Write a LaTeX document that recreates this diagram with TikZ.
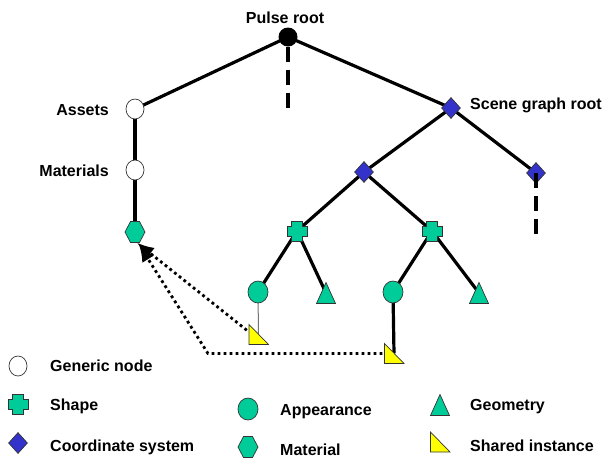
\documentclass[tikz,border=0pt]{standalone}
\usepackage{fontspec}
\setmainfont{Liberation Sans}
\usetikzlibrary{shapes.geometric,arrows.meta,backgrounds}

\definecolor{sgteal}{RGB}{0,204,153}
\definecolor{sgblue}{RGB}{51,51,204}
\definecolor{sgyellow}{RGB}{255,255,0}

\tikzset{
  txt/.style={font=\fontsize{16}{19}\selectfont\bfseries, inner sep=0pt},
  edge/.style={line width=3.2pt},
  thinedge/.style={line width=1pt, black!55},
  dashedge/.style={line width=3.2pt, dash pattern=on 15pt off 8pt},
  refedge/.style={line width=2.8pt, dash pattern=on 2.8pt off 3.2pt, -{Latex[length=17pt,width=14pt]}},
  outline/.style={draw=black!80, line width=0.7pt},
  symbox/.style={rectangle, inner sep=0pt, minimum size=23pt},
  pulse/.style={circle, fill=black, minimum size=19pt, inner sep=0pt},
  generic/.style={ellipse, outline, fill=white, minimum width=18pt, minimum height=20pt, inner sep=0pt},
  coordsys/.style={diamond, outline, fill=sgblue, minimum width=19pt, minimum height=21pt, inner sep=0pt},
  appearance/.style={ellipse, outline, fill=sgteal, minimum width=20pt, minimum height=22pt, inner sep=0pt},
  shapenode/.style={symbox, path picture={
    \filldraw[outline, fill=sgteal, shift={(path picture bounding box.center)}]
      (-5.5pt,-10pt) -- (5.5pt,-10pt) -- (5.5pt,-5pt) -- (10pt,-5pt) -- (10pt,5pt) -- (5.5pt,5pt)
      -- (5.5pt,10pt) -- (-5.5pt,10pt) -- (-5.5pt,5pt) -- (-10pt,5pt) -- (-10pt,-5pt) -- (-5.5pt,-5pt) -- cycle;}},
  material/.style={symbox, path picture={
    \filldraw[outline, fill=sgteal, shift={(path picture bounding box.center)}]
      (-10pt,0pt) -- (-4.5pt,10.5pt) -- (4.5pt,10.5pt) -- (10pt,0pt) -- (4.5pt,-10.5pt) -- (-4.5pt,-10.5pt) -- cycle;}},
  geometry/.style={symbox, path picture={
    \filldraw[outline, fill=sgteal, shift={(path picture bounding box.center)}]
      (-9.5pt,-10.5pt) -- (9.5pt,-10.5pt) -- (0pt,10.5pt) -- cycle;}},
  shared/.style={symbox, path picture={
    \filldraw[outline, fill=sgyellow, shift={(path picture bounding box.center)}]
      (-9.5pt,10pt) -- (-9.5pt,-10pt) -- (10pt,-10pt) -- cycle;}}
}

\begin{document}
\begin{tikzpicture}[x=1pt,y=-1pt]
  \useasboundingbox (0,0) rectangle (603,459);

  \node[pulse] at (288,37) (root) {};
  \node[txt, anchor=base] at (285,23) (rootlbl) {Pulse root};
  \node[generic] at (135,109) (assets) {};
  \node[txt, anchor=base east] at (109,115) (assetslbl) {Assets};
  \node[generic] at (135,170) (materials) {};
  \node[txt, anchor=base east] at (109,176) (materialslbl) {Materials};
  \node[material] at (135,232) (mat) {};
  \node[coordsys] at (451,108) (scene) {};
  \node[txt, anchor=base west] at (470,109) (scenelbl) {Scene graph root};
  \node[coordsys] at (364,172) (csa) {};
  \node[coordsys] at (536,173) (csb) {};
  \node[shapenode] at (297,231) (shpa) {};
  \node[shapenode] at (432,231) (shpb) {};
  \node[appearance] at (258,292) (appa) {};
  \node[appearance] at (393,292) (appb) {};
  \node[geometry] at (326,293) (geoa) {};
  \node[geometry] at (479,293) (geob) {};
  \node[shared] at (258.5,334.5) (insta) {};
  \node[shared] at (394,353.5) (instb) {};
  \coordinate (rootend) at (288,110);
  \coordinate (csbend) at (536,241);
  \coordinate (elbow) at (208,353.5);

  \begin{scope}[on background layer]
    \draw[edge] (root.center) -- (assets.center);
    \draw[edge] (root.center) -- (scene.center);
    \draw[edge] (assets.center) -- (materials.center);
    \draw[edge] (materials.center) -- (mat.center);
    \draw[edge] (scene.center) -- (csa.center);
    \draw[edge] (scene.center) -- (csb.center);
    \draw[edge] (csa.center) -- (shpa.center);
    \draw[edge] (csa.center) -- (shpb.center);
    \draw[edge] (shpa.center) -- (appa.center);
    \draw[edge] (shpa.center) -- (geoa.center);
    \draw[edge] (shpb.center) -- (appb.center);
    \draw[edge] (shpb.center) -- (geob.center);
    \draw[thinedge] (appa.center) -- (insta.center);
    \draw[edge] (appb.center) -- (instb.center);
  \end{scope}
  \draw[dashedge] (root.south) -- (rootend);
  \draw[dashedge] (csb.center) -- (csbend);
  \draw[refedge] (insta.160) -- ([shift={(2pt,1pt)}]mat.south);
  \draw[refedge] (instb.west) -- (elbow) -- ([shift={(4pt,-1pt)}]mat.south);

  \node[generic] at (18,366) (keygen) {};
  \node[txt, anchor=base west] at (50,371) (keygenlbl) {Generic node};
  \node[shapenode] at (18,404) (keyshp) {};
  \node[txt, anchor=base west] at (50,410) (keyshplbl) {Shape};
  \node[coordsys] at (18,443) (keycs) {};
  \node[txt, anchor=base west] at (50,451) (keycslbl) {Coordinate system};
  \node[appearance] at (248,409) (keyapp) {};
  \node[txt, anchor=base west] at (280,415) (keyapplbl) {Appearance};
  \node[material] at (248,447) (keymat) {};
  \node[txt, anchor=base west] at (280,455) (keymatlbl) {Material};
  \node[geometry] at (440,405) (keygeo) {};
  \node[txt, anchor=base west] at (470,410) (keygeolbl) {Geometry};
  \node[shared] at (440,442) (keyinst) {};
  \node[txt, anchor=base west] at (470,451) (keyinstlbl) {Shared instance};
\end{tikzpicture}
\end{document}
